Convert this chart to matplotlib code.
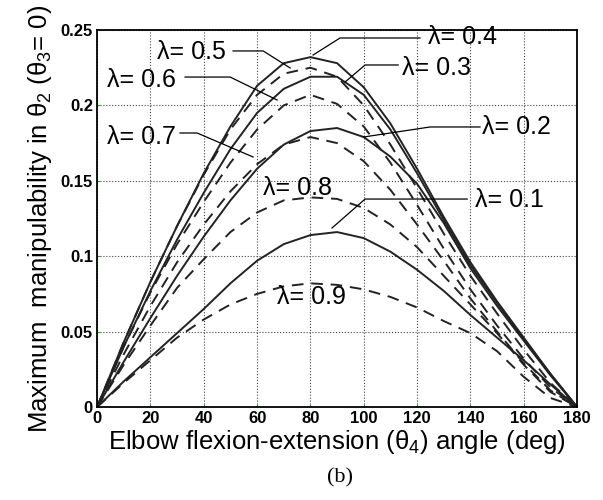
import matplotlib
matplotlib.use('Agg')
import matplotlib.pyplot as plt

plt.rcParams['font.family'] = ['Liberation Sans', 'DejaVu Sans']
plt.rcParams['mathtext.fontset'] = 'custom'
plt.rcParams['mathtext.rm'] = 'Liberation Sans'
plt.rcParams['mathtext.it'] = 'Liberation Sans:italic'

# elbow angle (deg) and max manipulability
angle = [0, 10, 20, 30, 40, 50, 60, 70, 80, 90, 100, 110, 120, 130, 140, 150, 160, 170, 180]

lam_01 = [0, 0.017, 0.033, 0.049, 0.065, 0.082, 0.097, 0.108, 0.114, 0.116, 0.112, 0.103, 0.091, 0.077, 0.061, 0.046, 0.031, 0.015, 0]
lam_02 = [0, 0.030, 0.059, 0.087, 0.113, 0.137, 0.158, 0.174, 0.183, 0.185, 0.179, 0.166, 0.148, 0.122, 0.092, 0.067, 0.044, 0.021, 0]
lam_03 = [0, 0.040, 0.077, 0.111, 0.142, 0.171, 0.195, 0.211, 0.219, 0.219, 0.207, 0.184, 0.155, 0.124, 0.094, 0.069, 0.045, 0.022, 0]
lam_04 = [0, 0.043, 0.083, 0.120, 0.155, 0.186, 0.213, 0.228, 0.232, 0.228, 0.212, 0.188, 0.158, 0.126, 0.096, 0.070, 0.046, 0.022, 0]
lam_05 = [0, 0.043, 0.083, 0.120, 0.154, 0.184, 0.207, 0.221, 0.225, 0.219, 0.200, 0.174, 0.145, 0.115, 0.087, 0.062, 0.038, 0.016, 0]
lam_06 = [0, 0.040, 0.076, 0.108, 0.136, 0.162, 0.184, 0.200, 0.207, 0.201, 0.186, 0.162, 0.134, 0.105, 0.078, 0.054, 0.032, 0.013, 0]
lam_07 = [0, 0.035, 0.067, 0.096, 0.121, 0.143, 0.161, 0.174, 0.179, 0.175, 0.163, 0.144, 0.121, 0.097, 0.072, 0.050, 0.029, 0.011, 0]
lam_08 = [0, 0.028, 0.054, 0.079, 0.098, 0.116, 0.129, 0.137, 0.139, 0.138, 0.132, 0.121, 0.106, 0.087, 0.068, 0.049, 0.028, 0.010, 0]
lam_09 = [0, 0.016, 0.031, 0.046, 0.058, 0.068, 0.075, 0.080, 0.082, 0.081, 0.078, 0.073, 0.066, 0.057, 0.049, 0.037, 0.020, 0.006, 0]

solid = [lam_01, lam_02, lam_03, lam_04]
dashed = [lam_05, lam_06, lam_07, lam_08, lam_09]

fig = plt.figure(figsize=(6.03, 5.0), dpi=100)
ax = fig.add_axes([0.161, 0.186, 0.796, 0.754])

for ys in solid:
    ax.plot(angle, ys, '-', color='#222222', linewidth=1.4, solid_joinstyle='round')
for ys in dashed:
    ax.plot(angle, ys, '--', color='#222222', linewidth=1.4, dashes=(6, 4))

# labels: text position, then leader line points
labels = [
    ('λ= 0.5', (22.5, 0.2354), [(51, 0.2361), (62.3, 0.2361), (72.4, 0.2248)]),
    ('λ= 0.6', (3.75, 0.2168), [(33, 0.2188), (49.9, 0.2188), (67.5, 0.2036)]),
    ('λ= 0.7', (3.75, 0.1790), [(31.1, 0.1817), (37.5, 0.1817), (58.5, 0.1658)]),
    ('λ= 0.8', (62.3, 0.1452), []),
    ('λ= 0.9', (67.5, 0.0729), []),
    ('λ= 0.4', (124.1, 0.2454), [(121.1, 0.2447), (91.1, 0.2447), (81, 0.2334)]),
    ('λ= 0.3', (114.4, 0.2248), [(112.9, 0.2268), (100.5, 0.2268), (93, 0.2155)]),
    ('λ= 0.2', (144.4, 0.1857), [(143.6, 0.1857), (124.9, 0.1857), (99.8, 0.1790)]),
    ('λ= 0.1', (141.8, 0.1373), [(138.8, 0.1379), (100.5, 0.1379), (88.1, 0.1187)]),
]
for txt, (tx, ty), pts in labels:
    ax.text(tx, ty, txt, fontsize=18, va='center', ha='left')
    if pts:
        ax.plot([p[0] for p in pts], [p[1] for p in pts], '-', color='black', linewidth=0.9)

ax.set_xlim(0, 180)
ax.set_ylim(0, 0.25)
ax.set_xticks(range(0, 181, 20))
ax.set_yticks([0, 0.05, 0.1, 0.15, 0.2, 0.25])
ax.set_yticklabels(['0', '0.05', '0.1', '0.15', '0.2', '0.25'])
ax.grid(True, linestyle=':', color='#444444', linewidth=0.8)
ax.tick_params(direction='in', length=2, color='#2a2', labelsize=12, pad=3)
for lab in ax.get_xticklabels() + ax.get_yticklabels():
    lab.set_fontweight('bold')
for sp in ax.spines.values():
    sp.set_linewidth(1.3)

ax.set_xlabel('Elbow flexion-extension (θ$_4$) angle (deg)', fontsize=18.5, labelpad=1)
ax.set_ylabel('Maximum  manipulability in θ$_2$ (θ$_3$= 0)', fontsize=18.5, labelpad=5)

fig.text(0.564, 0.044, '(b)', fontsize=16, family='Liberation Serif', ha='center', va='center')

fig.savefig('out.png', dpi=100)
